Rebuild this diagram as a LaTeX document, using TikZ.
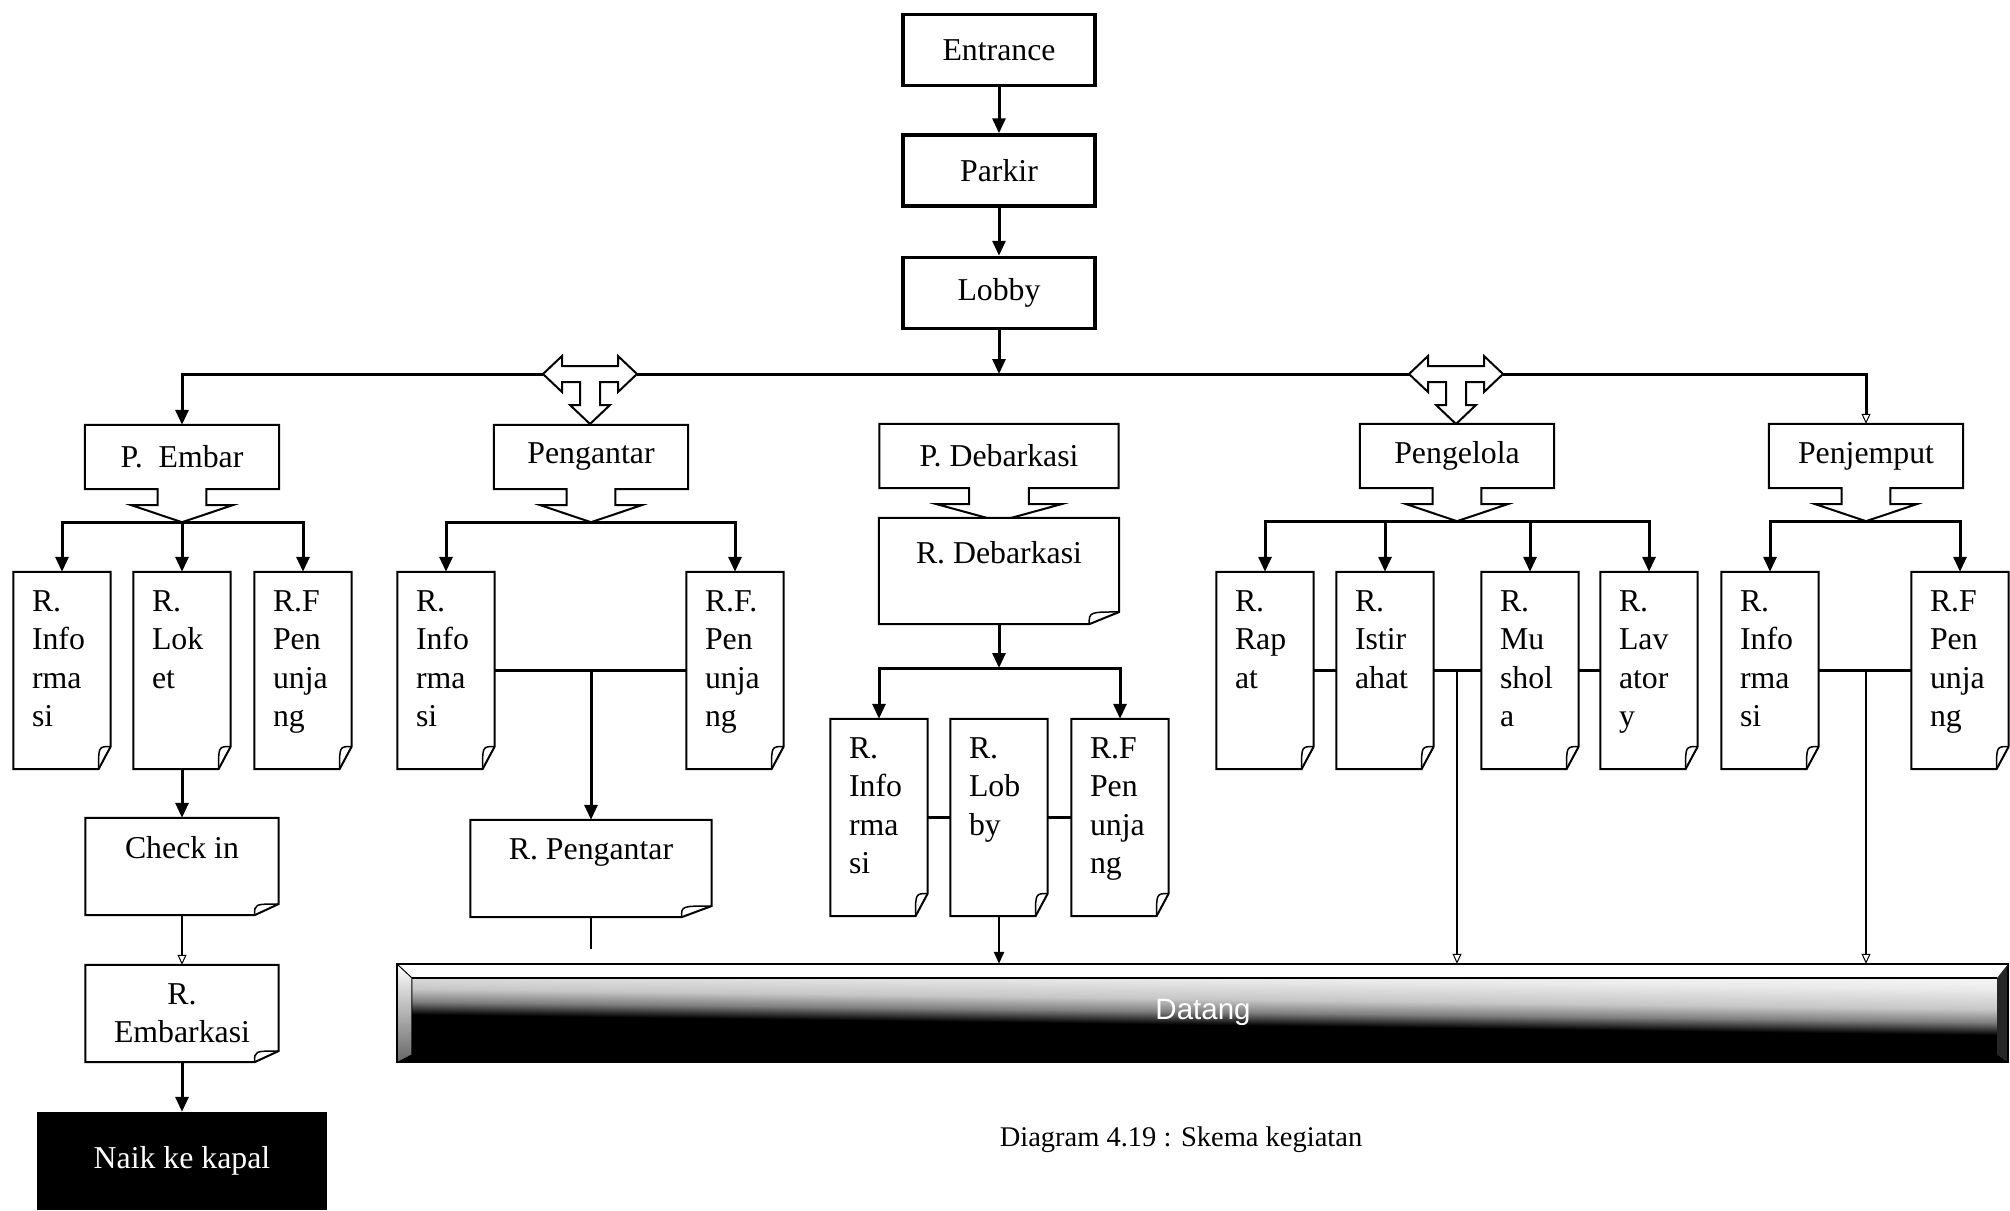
\documentclass[tikz,border=0pt]{standalone}
\usepackage{fontspec}
\setmainfont{Liberation Serif}
\newfontfamily\barfont{Liberation Sans}
\usetikzlibrary{arrows.meta,positioning,calc}
\pgfdeclareverticalshading{barfade}{100bp}{color(0bp)=(black); color(46.5bp)=(black);
  color(52bp)=(black!50); color(57.5bp)=(black!22); color(66bp)=(black!8); color(76bp)=(white);
  color(100bp)=(white)}
\tikzset{
  topbox/.style={rectangle,draw,line width=3.5pt,minimum width=192pt,minimum height=71pt},
  grpbox/.style={rectangle,inner sep=0pt,minimum width=194pt,minimum height=64pt},
  room/.style={rectangle,fill=white,inner xsep=18.5pt,inner ysep=18.5pt,
               minimum width=97pt,minimum height=197pt},
  sheet/.style={rectangle,fill=white,inner sep=0pt,minimum height=97pt},
  outl/.style={line width=2pt},
  wire/.style={line width=3pt},
  link/.style={line width=2.5pt},
  arr/.style={-{Triangle[width=13pt,length=15pt]},line width=3pt},
  sarr/.style={-{Triangle[width=10pt,length=12pt]},line width=2.5pt},
  oarr/.style={-{Triangle[open,width=9pt,length=10pt,line width=1pt]},line width=2.5pt},
}
% room sheet text, set from the top left
\newcommand\rtxt[1]{\parbox[c][160pt][t]{60pt}{\raggedright #1}}
\newcommand\wtxt[2]{\parbox[c][60pt][t]{#1}{\centering #2}}
% sheet with a folded lower right corner
\newcommand\foldit[1]{%
  \draw[outl] (#1.north west) -- (#1.north east)
    -- ($(#1.south east)!.115!(#1.north east)$) coordinate (#1-a)
    -- ($(#1.south east)!.125!(#1.south west)$) coordinate (#1-b)
    -- (#1.south west) -- cycle;
  \draw[line width=1.5pt] (#1-a) .. controls (#1-b |- #1-a) .. (#1-b);}
% box with a down arrow callout
\newcommand\callout[1]{%
  \draw[outl] (#1.north west) -- (#1.north east) -- (#1.south east)
    -- ($(#1.south)!.25!(#1.south east)$) -- ++(0,16)
    -- ($(#1.south)!.52!(#1.south east)+(0,16)$)
    -- ($(#1.south)+(0,33)$) coordinate (#1-tip)
    -- ($(#1.south)!.52!(#1.south west)+(0,16)$)
    -- ($(#1.south)!.25!(#1.south west)+(0,16)$)
    -- ($(#1.south)!.25!(#1.south west)$) -- (#1.south west) -- cycle;}
% left-right-down block arrow
\newcommand\tee[1]{%
  \draw[outl,fill=white,shift={(#1)}] (-47,0) coordinate (#1-l) -- (-28,-18) -- (-28,-8)
    -- (28,-8) -- (28,-18) -- (47,0) coordinate (#1-r) -- (28,18) -- (28,8) -- (10,8)
    -- (10,31) -- (20,31) -- (0,50) -- (-20,31) -- (-10,31) -- (-10,8) -- (-28,8)
    -- (-28,18) -- cycle;}

\begin{document}
\begin{tikzpicture}[x=1pt,y=-1pt,font=\fontsize{31.8}{38.5}\selectfont]
  \useasboundingbox (0,0) rectangle (2010,1210);

  \node[topbox] (ent) at (999,50) {Entrance};
  \node[topbox,below=46pt of ent] (park) {Parkir};
  \node[topbox,below=48pt of park] (lob) {Lobby};
  \draw[arr] (ent) -- (park);
  \draw[arr] (park) -- (lob);

  \coordinate (hub) at (999,374);
  \coordinate (da1) at (590,374);
  \coordinate (da2) at (1456,374);

  \node[grpbox] (pemb) at (182,457) {P.~~Embar};
  \node[grpbox] (pant) at (591,457) {Pengantar};
  \node[grpbox,minimum width=239pt] (pdeb) at (999,456) {P. Debarkasi};
  \node[grpbox] (pgl) at (1457,456) {Pengelola};
  \node[grpbox] (pjm) at (1866,456) {Penjemput};
  \foreach \g in {pemb,pant,pdeb,pgl,pjm} {\callout{\g}}

  \tee{da1}
  \tee{da2}
  \draw[arr] (lob) -- (hub);
  \draw[arr] (da1-l) -| (pemb.north);
  \draw[wire] (da1-r) -- (da2-l);
  \draw[oarr,line width=3pt] (da2-r) -| (pjm.north);

  % rooms
  \node[room] (ei) at (62,670.5) {\rtxt{R.\\Info\\rma\\si}};
  \node[room] (el) at (182,670.5) {\rtxt{R.\\Lok\\et}};
  \node[room] (ep) at (303,670.5) {\rtxt{R.F\\Pen\\unja\\ng}};
  \node[room] (ai) at (446,670.5) {\rtxt{R.\\Info\\rma\\si}};
  \node[room] (ap) at (735,670.5) {\rtxt{R.F.\\Pen\\unja\\ng}};
  \node[sheet,minimum width=240pt,minimum height=106pt] (rdeb) at (999,571) {\wtxt{220pt}{R. Debarkasi}};
  \node[room] (di) at (879,817.5) {\rtxt{R.\\Info\\rma\\si}};
  \node[room] (dl) at (999,817.5) {\rtxt{R.\\Lob\\by}};
  \node[room] (dp) at (1120,817.5) {\rtxt{R.F\\Pen\\unja\\ng}};
  \node[room] (gr) at (1265,670.5) {\rtxt{R.\\Rap\\at}};
  \node[room] (gi) at (1385,670.5) {\rtxt{R.\\Istir\\ahat}};
  \node[room] (gm) at (1530,670.5) {\rtxt{R.\\Mu\\shol\\a}};
  \node[room] (gl) at (1649,670.5) {\rtxt{R.\\Lav\\ator\\y}};
  \node[room] (ji) at (1770,670.5) {\rtxt{R.\\Info\\rma\\si}};
  \node[room] (jp) at (1960,670.5) {\rtxt{R.F\\Pen\\unja\\ng}};
  \node[sheet,minimum width=193pt] (chk) at (182,866.5) {\wtxt{170pt}{Check in}};
  \node[sheet,minimum width=193pt] (remb) at (182,1013.5) {\wtxt{170pt}{R.\\Embarkasi}};
  \node[sheet,minimum width=241pt] (rpg) at (591,868.5) {\wtxt{220pt}{R. Pengantar}};
  \foreach \r in {ei,el,ep,ai,ap,rdeb,di,dl,dp,gr,gi,gm,gl,ji,jp,chk,remb,rpg} {\foldit{\r}}

  \node[fill=black,text=white,minimum width=290pt,minimum height=98pt] (naik) at (182,1161) {Naik ke kapal};

  % arrival bar
  \node[inner sep=0pt,minimum width=1611pt,minimum height=98pt] (bar) at (1202.5,1013) {};
  \coordinate (o1) at (bar.north west);
  \coordinate (o2) at (bar.north east);
  \coordinate (o3) at (bar.south east);
  \coordinate (o4) at (bar.south west);
  \coordinate (i1) at ($(o1)+(15,14)$);
  \coordinate (i2) at ($(o2)+(-11,14)$);
  \coordinate (i3) at ($(o3)+(-11,-8)$);
  \coordinate (i4) at ($(o4)+(15,-8)$);
  \begin{scope}
    \clip (i1) rectangle (i3);
    \begin{scope}[transform canvas={rotate around={-0.75:(bar.center)}}]
      \shade[shading=barfade] ($(i1)+(-40,-20)$) rectangle ($(i3)+(40,21)$);
    \end{scope}
  \end{scope}
  \fill[white] (o1) -- (o2) -- (i2) -- (i1) -- cycle;
  \shade[top color=white,bottom color=black!60] (o1) -- (i1) -- (i4) -- (o4) -- cycle;
  \fill[black!85] (o2) -- (o3) -- (i3) -- (i2) -- cycle;
  \fill[black] (o4) -- (i4) -- (i3) -- (o3) -- cycle;
  \draw[line width=1.5pt] (o1) rectangle (o3);
  \draw[line width=2.5pt] (i1) -- (i2);
  \draw[line width=1pt] (o1) -- (i1) -- (i4);
  \node[text=white,font=\barfont\fontsize{29.5}{34}\selectfont] (datang) at (1203,1012) {Datang};

  \draw[arr] (pemb-tip) -| (ei.north);
  \draw[arr] (pemb-tip) -- (el.north);
  \draw[arr] (pemb-tip) -| (ep.north);
  \draw[arr] (pant-tip) -| (ai.north);
  \draw[arr] (pant-tip) -| (ap.north);
  \draw[arr] (pgl-tip) -| (gr.north);
  \draw[arr] (pgl-tip) -| (gi.north);
  \draw[arr] (pgl-tip) -| (gm.north);
  \draw[arr] (pgl-tip) -| (gl.north);
  \draw[arr] (pjm-tip) -| (ji.north);
  \draw[arr] (pjm-tip) -| (jp.north);

  \coordinate (dj) at (999,668);
  \draw[arr] (rdeb) -- (dj);
  \draw[arr] (dj) -| (di.north);
  \draw[arr] (dj) -| (dp.north);
  \draw[link] (di.east) -- (dl.west);
  \draw[link] (dl.east) -- (dp.west);
  \draw[sarr] (dl.south) -- (dl.south |- bar.north);

  \draw[link] (ai.east) -- (ap.west);
  \draw[arr] (rpg.north |- ai.east) -- (rpg.north);
  \draw[link] (rpg.south) -- ++(0,32);

  \draw[link] (gr.east) -- (gi.west);
  \draw[link] (gi.east) -- (gm.west);
  \draw[link] (gm.east) -- (gl.west);
  \draw[oarr] (pgl |- gi.east) -- (pgl |- bar.north);

  \draw[link] (ji.east) -- (jp.west);
  \draw[oarr] (pjm |- ji.east) -- (pjm |- bar.north);

  \draw[arr] (el) -- (chk);
  \draw[oarr] (chk) -- (remb);
  \draw[arr] (remb) -- (naik);

  \node (cap) at (1181,1140) {\fontsize{28.5}{34}\selectfont Diagram 4.19 : Skema kegiatan};
\end{tikzpicture}
\end{document}
